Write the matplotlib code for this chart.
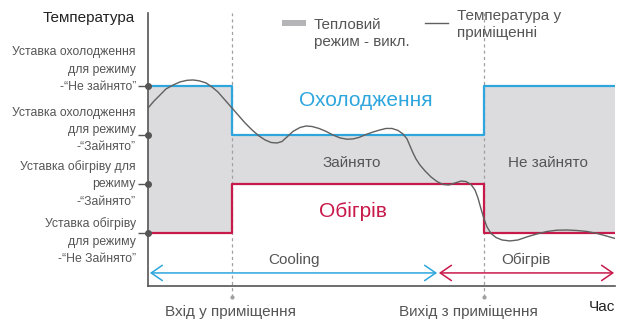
import matplotlib.pyplot as plt
from matplotlib.patches import Rectangle
from matplotlib.lines import Line2D

plt.rcParams['font.family'] = ['Liberation Sans', 'DejaVu Sans']

# Setpoints (deg) and occupancy timeline (0..100)
COOL_UNOCC = 27.0
COOL_OCC = 24.0
HEAT_OCC = 21.0
HEAT_UNOCC = 18.0
T_ENTER = 18.0
T_LEAVE = 72.0
T_END = 100.0

# Room temperature read along the time axis
room_t = [0.0, 1.28, 2.57, 3.85, 5.35, 6.85, 8.35, 9.64, 10.92, 12.42, 13.70,
          14.99, 16.27, 17.77, 19.27, 20.77, 22.27, 23.77, 25.05, 26.34,
          27.62, 28.69, 29.76, 31.05, 32.55, 33.83, 35.12, 36.62, 38.12,
          39.61, 41.11, 42.61, 43.90, 45.18, 46.68, 48.18, 49.68, 50.96,
          52.25, 53.53, 54.60, 55.46, 56.10, 56.75, 57.39, 58.24, 59.31,
          60.60, 61.88, 63.17, 64.45, 65.74, 67.02, 68.09, 69.16, 70.02,
          70.66, 71.31, 71.95, 72.59, 73.45, 74.52, 75.80, 77.52, 79.23,
          81.16, 83.30, 85.44, 87.58, 89.72, 91.86, 94.00, 96.15, 98.07, 100.0]
room_temp = [25.65, 26.08, 26.45, 26.82, 27.06, 27.25, 27.35, 27.37, 27.32,
             27.19, 26.94, 26.63, 26.21, 25.72, 25.23, 24.74, 24.31, 23.94,
             23.70, 23.54, 23.51, 23.60, 23.88, 24.22, 24.46, 24.55, 24.52,
             24.40, 24.22, 24.00, 23.82, 23.74, 23.76, 23.85, 24.03, 24.18,
             24.31, 24.40, 24.40, 24.28, 24.06, 23.76, 23.33, 22.90, 22.53,
             22.16, 21.80, 21.43, 21.15, 20.97, 20.94, 21.06, 21.18, 21.15,
             20.97, 20.63, 20.14, 19.47, 18.86, 18.37, 17.97, 17.72, 17.57,
             17.51, 17.57, 17.76, 17.94, 18.09, 18.17, 18.18, 18.15, 18.09,
             17.97, 17.82, 17.66]

step_t = [0, T_ENTER, T_ENTER, T_LEAVE, T_LEAVE, T_END]
cool_sp = [COOL_UNOCC, COOL_UNOCC, COOL_OCC, COOL_OCC, COOL_UNOCC, COOL_UNOCC]
heat_sp = [HEAT_UNOCC, HEAT_UNOCC, HEAT_OCC, HEAT_OCC, HEAT_UNOCC, HEAT_UNOCC]

setpoint_labels = ['Уставка охолодження\nдля режиму\n-“Не зайнято”',
                   'Уставка охолодження\nдля режиму\n-“Зайнято”',
                   'Уставка обігріву для\nрежиму\n-“Зайнято”',
                   'Уставка обігріву\nдля режиму\n-“Не Зайнято”']
label_y = [28.0, 24.3, 21.0, 17.5]

BLUE = '#2ea6dd'
RED = '#c8194b'
FILL = '#dcdcde'
DARK = '#555555'

fig = plt.figure(figsize=(6.28, 3.2), dpi=100)
ax = fig.add_axes([0.2357, 0.10625, 0.7436, 0.853])
ax.set_xlim(0, T_END)
ax.set_ylim(14.75, 31.47)

# heating-off band between the active setpoints
ax.fill_between(step_t, heat_sp, cool_sp, color=FILL, lw=0, zorder=1)
ax.plot(step_t, cool_sp, color=BLUE, lw=1.6, zorder=3)
ax.plot(step_t, heat_sp, color=RED, lw=1.6, zorder=3)
ax.plot(room_t, room_temp, color='#606060', lw=1.0, zorder=4)

# occupancy change markers
for t in (T_ENTER, T_LEAVE):
    ax.plot([t, t], [14.08, 31.47], color='#a0a0a0', lw=0.9, ls=(0, (2.5, 2.5)),
            clip_on=False, zorder=2)
    ax.plot([t], [14.08], 'o', color='#a0a0a0', ms=2, clip_on=False)

# axes
for side in ('top', 'right'):
    ax.spines[side].set_visible(False)
for side in ('left', 'bottom'):
    ax.spines[side].set_color(DARK)
    ax.spines[side].set_linewidth(1.2)
ax.set_xticks([])
ax.set_yticks([COOL_UNOCC, COOL_OCC, HEAT_OCC, HEAT_UNOCC])
ax.set_yticklabels([])
ax.tick_params(axis='y', length=7, width=1, color=DARK)
ax.plot([0] * 4, [COOL_UNOCC, COOL_OCC, HEAT_OCC, HEAT_UNOCC], 'o',
        color=DARK, ms=4, clip_on=False, zorder=5)

for text, y in zip(setpoint_labels, label_y):
    ax.text(-2.6, y, text, ha='right', va='center', fontsize=8.8, color=DARK,
            linespacing=1.6, clip_on=False)

ax.text(-2.8, 31.17, 'Температура', ha='right', va='center', fontsize=11,
        color='#222222', clip_on=False)
ax.text(100, 13.47, 'Час', ha='right', va='center', fontsize=11,
        color='#222222', clip_on=False)

# legend
ax.add_patch(Rectangle((28.7, 30.68), 5.1, 0.36, color='#b5b5b8', lw=0,
                       clip_on=False))
ax.text(35.5, 30.2, 'Тепловий\nрежим - викл.', ha='left', va='center',
        fontsize=11, color=DARK, linespacing=1.3)
ax.add_line(Line2D([59.3, 64.2], [30.86, 30.86], color='#606060', lw=1.0))
ax.text(66.2, 30.75, 'Температура у\nприміщенні', ha='left', va='center',
        fontsize=11, color=DARK, linespacing=1.3, clip_on=False)

ax.text(46.7, 26.14, 'Охолодження', ha='center', va='center', fontsize=15,
        color=BLUE)
ax.text(43.9, 19.29, 'Обігрів', ha='center', va='center', fontsize=15,
        color=RED)
ax.text(43.7, 22.3, 'Зайнято', ha='center', va='center', fontsize=11,
        color=DARK)
ax.text(85.7, 22.3, 'Не зайнято', ha='center', va='center', fontsize=11,
        color=DARK)

# operating mode spans
ax.annotate('', xy=(0.4, 15.55), xytext=(61.9, 15.55),
            arrowprops=dict(arrowstyle='<->,head_length=0.8,head_width=0.55',
                            color=BLUE, lw=1.1, shrinkA=0, shrinkB=0))
ax.annotate('', xy=(62.3, 15.55), xytext=(99.8, 15.55),
            arrowprops=dict(arrowstyle='<->,head_length=0.8,head_width=0.55',
                            color=RED, lw=1.1, shrinkA=0, shrinkB=0))
ax.text(31.3, 16.35, 'Cooling', ha='center', va='center', fontsize=11,
        color=DARK)
ax.text(80.9, 16.35, 'Обігрів', ha='center', va='center', fontsize=11,
        color=DARK)

ax.text(17.6, 13.16, 'Вхід у приміщення', ha='center', va='center',
        fontsize=11, color=DARK, clip_on=False)
ax.text(68.7, 13.16, 'Вихід з приміщення', ha='center', va='center',
        fontsize=11, color=DARK, clip_on=False)

fig.savefig('out.png', dpi=100)
